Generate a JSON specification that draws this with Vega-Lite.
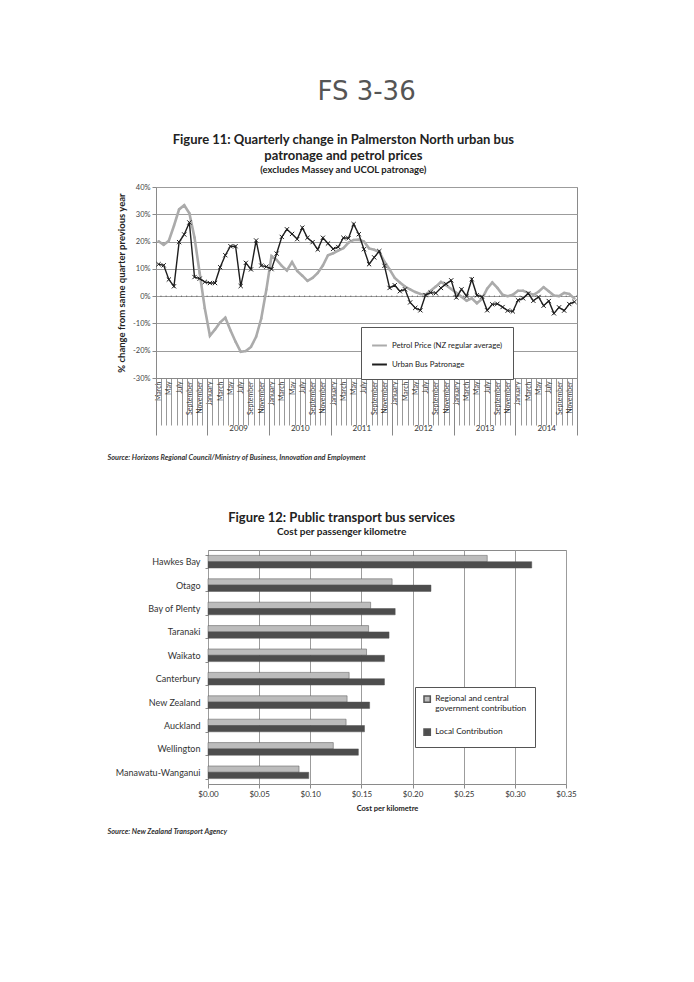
{
  "$schema": "https://vega.github.io/schema/vega-lite/v6.json",
  "background": "white",
  "padding": {"left": 105, "top": 79, "right": 5, "bottom": 5},
  "title": {"text": "FS 3-36", "font": "DejaVu Sans", "fontSize": 26, "fontWeight": "normal", "color": "#555", "anchor": "middle", "frame": "bounds", "offset": 28, "dx": 24},
  "datasets": {
    "fig11": [
      {"ym": "2008-03", "petrol": 20.1, "bus": 11.7},
      {"ym": "2008-04", "petrol": 18.8, "bus": 11.3},
      {"ym": "2008-05", "petrol": 20.3, "bus": 6.1},
      {"ym": "2008-06", "petrol": 25.8, "bus": 3.6},
      {"ym": "2008-07", "petrol": 31.8, "bus": 19.8},
      {"ym": "2008-08", "petrol": 33.3, "bus": 22.6},
      {"ym": "2008-09", "petrol": 30.4, "bus": 27.0},
      {"ym": "2008-10", "petrol": 21.5, "bus": 7.0},
      {"ym": "2008-11", "petrol": 8.5, "bus": 6.4},
      {"ym": "2008-12", "petrol": -4.4, "bus": 5.2},
      {"ym": "2009-01", "petrol": -14.5, "bus": 4.8},
      {"ym": "2009-02", "petrol": -12.2, "bus": 4.8},
      {"ym": "2009-03", "petrol": -9.6, "bus": 10.6},
      {"ym": "2009-04", "petrol": -7.9, "bus": 15.0},
      {"ym": "2009-05", "petrol": -12.5, "bus": 18.3},
      {"ym": "2009-06", "petrol": -16.7, "bus": 18.3},
      {"ym": "2009-07", "petrol": -20.4, "bus": 3.7},
      {"ym": "2009-08", "petrol": -20.1, "bus": 12.2},
      {"ym": "2009-09", "petrol": -18.6, "bus": 9.8},
      {"ym": "2009-10", "petrol": -14.9, "bus": 20.4},
      {"ym": "2009-11", "petrol": -8.2, "bus": 11.2},
      {"ym": "2009-12", "petrol": 2.4, "bus": 10.8},
      {"ym": "2010-01", "petrol": 14.7, "bus": 9.9},
      {"ym": "2010-02", "petrol": 13.3, "bus": 15.6},
      {"ym": "2010-03", "petrol": 11.1, "bus": 21.7},
      {"ym": "2010-04", "petrol": 9.4, "bus": 24.5},
      {"ym": "2010-05", "petrol": 12.5, "bus": 22.8},
      {"ym": "2010-06", "petrol": 9.2, "bus": 20.9},
      {"ym": "2010-07", "petrol": 7.5, "bus": 25.1},
      {"ym": "2010-08", "petrol": 5.6, "bus": 21.4},
      {"ym": "2010-09", "petrol": 6.7, "bus": 19.8},
      {"ym": "2010-10", "petrol": 8.5, "bus": 17.1},
      {"ym": "2010-11", "petrol": 11.2, "bus": 21.4},
      {"ym": "2010-12", "petrol": 15.0, "bus": 19.3},
      {"ym": "2011-01", "petrol": 15.7, "bus": 17.3},
      {"ym": "2011-02", "petrol": 16.7, "bus": 18.0},
      {"ym": "2011-03", "petrol": 17.6, "bus": 21.4},
      {"ym": "2011-04", "petrol": 19.6, "bus": 21.2},
      {"ym": "2011-05", "petrol": 20.6, "bus": 26.4},
      {"ym": "2011-06", "petrol": 20.7, "bus": 22.7},
      {"ym": "2011-07", "petrol": 20.0, "bus": 17.2},
      {"ym": "2011-08", "petrol": 17.5, "bus": 11.7},
      {"ym": "2011-09", "petrol": 17.0, "bus": 14.2},
      {"ym": "2011-10", "petrol": 16.2, "bus": 16.5},
      {"ym": "2011-11", "petrol": 12.6, "bus": 11.1},
      {"ym": "2011-12", "petrol": 9.8, "bus": 3.0},
      {"ym": "2012-01", "petrol": 6.7, "bus": 4.0},
      {"ym": "2012-02", "petrol": 5.0, "bus": 1.8},
      {"ym": "2012-03", "petrol": 3.5, "bus": 2.5},
      {"ym": "2012-04", "petrol": 2.5, "bus": -2.3},
      {"ym": "2012-05", "petrol": 1.5, "bus": -4.3},
      {"ym": "2012-06", "petrol": 0.8, "bus": -5.2},
      {"ym": "2012-07", "petrol": 0.6, "bus": 0.4},
      {"ym": "2012-08", "petrol": 2.0, "bus": 1.3},
      {"ym": "2012-09", "petrol": 3.5, "bus": 1.1},
      {"ym": "2012-10", "petrol": 5.2, "bus": 3.0},
      {"ym": "2012-11", "petrol": 4.0, "bus": 4.5},
      {"ym": "2012-12", "petrol": 2.6, "bus": 5.8},
      {"ym": "2013-01", "petrol": 1.2, "bus": -0.5},
      {"ym": "2013-02", "petrol": -0.2, "bus": 2.5},
      {"ym": "2013-03", "petrol": -1.7, "bus": 0.0},
      {"ym": "2013-04", "petrol": -0.8, "bus": 6.2},
      {"ym": "2013-05", "petrol": -2.6, "bus": 0.3},
      {"ym": "2013-06", "petrol": -1.0, "bus": -0.2},
      {"ym": "2013-07", "petrol": 2.7, "bus": -5.2},
      {"ym": "2013-08", "petrol": 5.0, "bus": -3.0},
      {"ym": "2013-09", "petrol": 3.0, "bus": -2.8},
      {"ym": "2013-10", "petrol": 0.5, "bus": -4.0},
      {"ym": "2013-11", "petrol": 0.0, "bus": -5.3},
      {"ym": "2013-12", "petrol": 0.5, "bus": -5.6},
      {"ym": "2014-01", "petrol": 2.0, "bus": -1.5},
      {"ym": "2014-02", "petrol": 2.0, "bus": -0.8},
      {"ym": "2014-03", "petrol": 1.2, "bus": 1.0},
      {"ym": "2014-04", "petrol": 0.5, "bus": -1.7},
      {"ym": "2014-05", "petrol": 1.6, "bus": -0.3},
      {"ym": "2014-06", "petrol": 3.3, "bus": -3.5},
      {"ym": "2014-07", "petrol": 1.8, "bus": -1.8},
      {"ym": "2014-08", "petrol": 0.2, "bus": -6.3},
      {"ym": "2014-09", "petrol": 0.0, "bus": -4.1},
      {"ym": "2014-10", "petrol": 1.2, "bus": -5.3},
      {"ym": "2014-11", "petrol": 0.8, "bus": -2.9},
      {"ym": "2014-12", "petrol": -0.9, "bus": -2.1}
    ],
    "zeroLine": [{"z": 0}],
    "yearEdges": [{"b": 0}, {"b": 82}],
    "empty": [],
    "fig12": [
      {"region": "Hawkes Bay", "type": "Regional and central government contribution", "cost": 0.273},
      {"region": "Hawkes Bay", "type": "Local Contribution", "cost": 0.3165},
      {"region": "Otago", "type": "Regional and central government contribution", "cost": 0.180},
      {"region": "Otago", "type": "Local Contribution", "cost": 0.218},
      {"region": "Bay of Plenty", "type": "Regional and central government contribution", "cost": 0.159},
      {"region": "Bay of Plenty", "type": "Local Contribution", "cost": 0.183},
      {"region": "Taranaki", "type": "Regional and central government contribution", "cost": 0.157},
      {"region": "Taranaki", "type": "Local Contribution", "cost": 0.177},
      {"region": "Waikato", "type": "Regional and central government contribution", "cost": 0.155},
      {"region": "Waikato", "type": "Local Contribution", "cost": 0.1725},
      {"region": "Canterbury", "type": "Regional and central government contribution", "cost": 0.138},
      {"region": "Canterbury", "type": "Local Contribution", "cost": 0.1725},
      {"region": "New Zealand", "type": "Regional and central government contribution", "cost": 0.136},
      {"region": "New Zealand", "type": "Local Contribution", "cost": 0.158},
      {"region": "Auckland", "type": "Regional and central government contribution", "cost": 0.135},
      {"region": "Auckland", "type": "Local Contribution", "cost": 0.153},
      {"region": "Wellington", "type": "Regional and central government contribution", "cost": 0.1225},
      {"region": "Wellington", "type": "Local Contribution", "cost": 0.147},
      {"region": "Manawatu-Wanganui", "type": "Regional and central government contribution", "cost": 0.089},
      {"region": "Manawatu-Wanganui", "type": "Local Contribution", "cost": 0.0985}
    ]
  },
  "concat": [
    {
      "spacing": 0,
      "hconcat": [
        {"width": 1, "height": 1, "view": {"stroke": null}, "data": {"name": "empty"}, "mark": {"type": "rule", "opacity": 0}, "encoding": {}},
        {
          "width": 421,
          "height": 191,
          "title": {"text": ["Figure 11: Quarterly change in  Palmerston North urban bus", "patronage and petrol prices"], "subtitle": "(excludes Massey and UCOL patronage)", "font": "Lato", "fontSize": 13, "fontWeight": "bold", "lineHeight": 16, "color": "#222", "subtitleFont": "Lato", "subtitleFontSize": 9.5, "subtitleFontWeight": "bold", "subtitleColor": "#222", "subtitlePadding": 2, "anchor": "middle", "frame": "bounds", "offset": 9},
          "resolve": {"scale": {"x": "independent"}, "axis": {"x": "independent"}},
          "layer": [
            {
              "layer": [
                {
                  "data": {"name": "zeroLine"},
                  "mark": {"type": "rule", "color": "#555", "strokeWidth": 1, "strokeDash": [1, 4.13]},
                  "encoding": {"y": {"field": "z", "type": "quantitative", "title": "% change from same quarter previous year", "scale": {"domain": [-30, 40], "nice": false},
                    "axis": {"values": [-30, -20, -10, 0, 10, 20, 30, 40], "labelExpr": "datum.value + '%'", "labelFontSize": 7.5, "labelColor": "#444", "tickSize": 4, "domain": false, "gridColor": "#9c9c9c", "titleFontSize": 9.5, "titleFontWeight": "bold", "titlePadding": 6, "titleColor": "#222"}}}
                },
                {
                  "data": {"name": "fig11"},
                  "mark": {"type": "line", "strokeWidth": 2.6, "point": {"filled": true, "size": 6}},
                  "encoding": {
                    "x": {"field": "ym", "type": "ordinal", "sort": null, "bandPosition": 0.5, "scale": {"type": "band", "paddingInner": 0, "paddingOuter": 0},
                      "axis": {"title": null, "labelAngle": -90, "labelFontSize": 7, "labelColor": "#333", "labelOverlap": false, "labelBound": false,
                        "labelExpr": "isString(datum.value) && toNumber(slice(datum.value, 5)) % 2 == 1 ? ['January','February','March','April','May','June','July','August','September','October','November','December'][toNumber(slice(datum.value, 5)) - 1] : ''",
                        "tickBand": "extent", "tickSize": 47, "tickColor": "#999", "labelPadding": -44, "domainColor": "#888", "grid": false}},
                    "y": {"field": "petrol", "type": "quantitative", "title": "% change from same quarter previous year", "scale": {"domain": [-30, 40], "nice": false},
                      "axis": {"values": [-30, -20, -10, 0, 10, 20, 30, 40], "labelExpr": "datum.value + '%'", "labelFontSize": 7.5, "labelColor": "#444", "tickSize": 4, "domain": false, "gridColor": "#9c9c9c", "titleFontSize": 9.5, "titleFontWeight": "bold", "titlePadding": 6, "titleColor": "#222"}},
                    "color": {"datum": "Petrol Price (NZ regular average)", "type": "nominal",
                      "scale": {"domain": ["Petrol Price (NZ regular average)", "Urban Bus Patronage"], "range": ["#ababab", "#1e1e1e"]},
                      "legend": {"title": null, "orient": "none", "legendX": 256, "legendY": 140, "direction": "vertical", "strokeColor": "#555", "fillColor": "white", "padding": 10, "symbolType": "stroke", "symbolSize": 220, "symbolStrokeWidth": 2, "labelFontSize": 7.8, "labelColor": "#222", "rowPadding": 6}}
                  }
                },
                {
                  "data": {"name": "fig11"},
                  "mark": {"type": "line", "strokeWidth": 1.4, "point": {"filled": false, "shape": "M-1,-1L1,1M-1,1L1,-1", "size": 18, "strokeWidth": 1}},
                  "encoding": {
                    "x": {"field": "ym", "type": "ordinal", "sort": null, "bandPosition": 0.5, "scale": {"type": "band", "paddingInner": 0, "paddingOuter": 0}},
                    "y": {"field": "bus", "type": "quantitative", "title": "% change from same quarter previous year", "scale": {"domain": [-30, 40], "nice": false},
                      "axis": {"values": [-30, -20, -10, 0, 10, 20, 30, 40], "labelExpr": "datum.value + '%'", "labelFontSize": 7.5, "labelColor": "#444", "tickSize": 4, "domain": false, "gridColor": "#9c9c9c", "titleFontSize": 9.5, "titleFontWeight": "bold", "titlePadding": 6, "titleColor": "#222"}},
                    "color": {"datum": "Urban Bus Patronage", "type": "nominal",
                      "scale": {"domain": ["Petrol Price (NZ regular average)", "Urban Bus Patronage"], "range": ["#ababab", "#1e1e1e"]}}
                  }
                }
              ]
            },
            {
              "data": {"name": "yearEdges"},
              "mark": {"type": "rule", "opacity": 0},
              "encoding": {
                "x": {"field": "b", "type": "quantitative", "scale": {"domain": [0, 82], "nice": false, "zero": false},
                  "axis": {"orient": "bottom", "grid": false, "domain": false,
                    "values": [0, 10, 16, 22, 28, 34, 40, 46, 52, 58, 64, 70, 76, 82],
                    "tickSize": 57, "tickColor": "#888",
                    "tickOpacity": {"condition": {"test": "(datum.value - 4) % 12 == 0", "value": 0}, "value": 1},
                    "labelExpr": "(datum.value - 4) % 12 == 0 ? '' + (2008 + (datum.value - 4) / 12) : ''",
                    "labelPadding": -11, "labelFontSize": 8, "labelColor": "#333", "labelAngle": 0, "labelOverlap": false, "labelFlush": false, "labelBound": false,
                    "title": "Source: Horizons Regional Council/Ministry of Business, Innovation and Employment",
                    "titleX": -49, "titleY": 75, "titleAlign": "left", "titleBaseline": "top", "titleAngle": 0, "titleAnchor": "start",
                    "titleFont": "Lato", "titleFontSize": 7.3, "titleFontWeight": "bold", "titleFontStyle": "italic", "titleColor": "#333"}}
              }
            }
          ]
        }
      ]
    },
    {
      "spacing": 0,
      "hconcat": [
        {"width": 1, "height": 1, "view": {"stroke": null}, "data": {"name": "empty"}, "mark": {"type": "rule", "opacity": 0}, "encoding": {}},
        {
          "width": 358,
          "height": 234,
          "title": {"text": "Figure 12: Public transport bus services", "subtitle": "Cost per passenger kilometre", "font": "Lato", "fontSize": 13, "fontWeight": "bold", "color": "#222", "subtitleFont": "Lato", "subtitleFontSize": 10, "subtitleFontWeight": "bold", "subtitleColor": "#222", "subtitlePadding": 2, "anchor": "middle", "frame": "bounds", "offset": 9},
          "resolve": {"scale": {"x": "independent"}, "axis": {"x": "independent"}},
          "layer": [
            {
              "data": {"name": "fig12"},
              "mark": {"type": "bar", "stroke": "#555", "strokeWidth": 0.5},
              "encoding": {
                "y": {"field": "region", "type": "nominal", "sort": null, "title": null,
                  "scale": {"paddingInner": 0.46, "paddingOuter": 0.23},
                  "axis": {"labelFontSize": 9, "labelColor": "#333", "tickBand": "extent", "tickSize": 3, "tickColor": "#888", "labelPadding": 5, "domain": false}},
                "yOffset": {"field": "type", "type": "nominal", "sort": ["Regional and central government contribution", "Local Contribution"]},
                "x": {"field": "cost", "type": "quantitative", "title": "Cost per kilometre", "scale": {"domain": [0, 0.35], "nice": false},
                  "axis": {"values": [0, 0.05, 0.1, 0.15, 0.2, 0.25, 0.3, 0.35], "format": "$.2f", "labelFontSize": 8, "labelColor": "#333", "tickSize": 4, "domain": false, "gridColor": "#9c9c9c", "titleFontSize": 7.5, "titleFontWeight": "bold", "titleColor": "#222", "titlePadding": 6, "labelFlush": false}},
                "color": {"field": "type", "type": "nominal",
                  "scale": {"domain": ["Regional and central government contribution", "Local Contribution"], "range": ["#bcbcbc", "#4d4d4d"]},
                  "legend": {"title": null, "orient": "none", "legendX": 310, "legendY": 137, "direction": "vertical", "strokeColor": "#555", "fillColor": "white", "padding": 8, "symbolType": "square", "symbolSize": 40, "labelFontSize": 8.3, "labelColor": "#222", "rowPadding": 12, "labelLimit": 200,
                    "labelExpr": "datum.label == 'Regional and central government contribution' ? ['Regional and central', 'government contribution'] : datum.label"}}
              }
            },
            {
              "data": {"name": "fig12"},
              "mark": {"type": "rule", "opacity": 0},
              "encoding": {
                "x": {"field": "cost", "type": "quantitative", "scale": {"domain": [0, 0.35], "nice": false},
                  "axis": {"orient": "bottom", "grid": false, "domain": false, "ticks": false, "labels": false,
                    "title": "Source: New Zealand Transport Agency",
                    "titleX": -101, "titleY": 43, "titleAlign": "left", "titleBaseline": "top", "titleAngle": 0, "titleAnchor": "start",
                    "titleFont": "Lato", "titleFontSize": 7.3, "titleFontWeight": "bold", "titleFontStyle": "italic", "titleColor": "#333"}}
              }
            }
          ]
        }
      ]
    }
  ],
  "columns": 1,
  "spacing": 50,
  "resolve": {"scale": {"color": "independent"}, "legend": {"color": "independent"}},
  "config": {
    "font": "Lato",
    "view": {"stroke": "#8a8a8a", "strokeWidth": 1},
    "axis": {"labelFont": "Lato", "titleFont": "Lato", "gridColor": "#9c9c9c", "tickColor": "#8a8a8a", "domainColor": "#8a8a8a"},
    "legend": {"labelFont": "Lato"}
  }
}
